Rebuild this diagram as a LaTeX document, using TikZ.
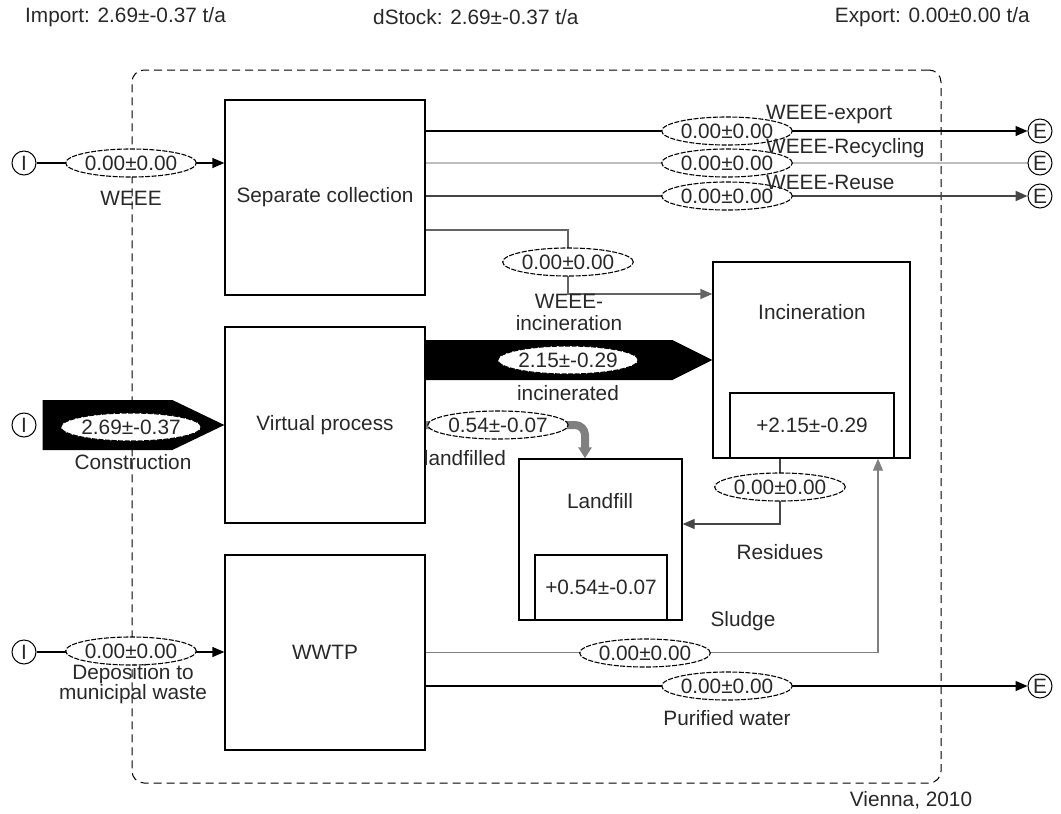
\documentclass[tikz,border=0pt]{standalone}
\usepackage{fontspec}
\setmainfont{Liberation Sans}
\usetikzlibrary{shapes.geometric,arrows.meta,backgrounds}
\definecolor{txt}{RGB}{40,40,40}
\definecolor{recy}{RGB}{190,190,190}
\definecolor{reuse}{RGB}{70,70,70}
\definecolor{midg}{RGB}{100,100,100}
\definecolor{lfg}{RGB}{128,128,128}
\tikzset{
  proc/.style={draw, line width=1.3pt, inner sep=0pt, text=txt},
  io/.style={draw, circle, minimum size=24pt, inner sep=0pt, line width=1pt, text=txt},
  val/.style={ellipse, draw, dash pattern=on 5pt off 1.5pt, line width=1.1pt, fill=white, minimum width=128pt, minimum height=28pt, inner sep=0pt, text=txt},
  lbl/.style={inner sep=0pt, align=center, text=txt},
  fl/.style={line width=1.3pt, -{Triangle[length=12pt,width=10pt]}},
  sysframe/.style={draw, dash pattern=on 8pt off 5pt, line width=1pt, rounded corners=12pt, inner sep=0pt},
}
\begin{document}
\begin{tikzpicture}[x=1pt,y=-1pt,font=\fontsize{20.8}{22}\selectfont]
\useasboundingbox (0,0) rectangle (1061,814);
% header
\node[lbl, anchor=west] (hImp) at (25,17) {Import: 2.69±-0.37 t/a};
\node[lbl, anchor=west] (hSt) at (373,17) {dStock: 2.69±-0.37 t/a};
\node[lbl, anchor=east] (hEx) at (1030,17) {Export: 0.00±0.00 t/a};
\node[lbl] (vien) at (911,800) {Vienna, 2010};
% processes
\node[proc, minimum width=200pt, minimum height=195pt] (sep) at (325,197.5) {Separate collection};
\node[proc, minimum width=200pt, minimum height=196pt] (vp) at (325,425) {Virtual process};
\node[proc, minimum width=200pt, minimum height=195pt] (wwtp) at (325,652.5) {WWTP};
\node[proc, minimum width=197pt, minimum height=196pt] (inc) at (811.5,360) {};
\node[lbl] (incT) at (812,312) {Incineration};
\node[proc, minimum width=164pt, minimum height=65pt] (incs) at (812,425.5) {+2.15±-0.29};
\node[proc, minimum width=163pt, minimum height=161pt] (lf) at (600.5,539.5) {};
\node[lbl] (lfT) at (600,501) {Landfill};
\node[proc, minimum width=132pt, minimum height=65pt] (lfs) at (601,587.5) {+0.54±-0.07};
% import / export
\node[io] (iW) at (24,163) {I};
\node[io] (iC) at (24,425) {I};
\node[io] (iD) at (24,652) {I};
\node[io] (eX) at (1040,131) {E};
\node[io] (eR) at (1040,163) {E};
\node[io] (eU) at (1040,196) {E};
\node[io] (eP) at (1040,686) {E};
% values
\node[val] (vW) at (131,163) {0.00±0.00};
\node[val] (vC) at (131,427) {2.69±-0.37};
\node[val] (vD) at (131,651) {0.00±0.00};
\node[val] (vX) at (727,131) {0.00±0.00};
\node[val] (vR) at (727,163) {0.00±0.00};
\node[val] (vU) at (727,196) {0.00±0.00};
\node[val] (vWi) at (568,262) {0.00±0.00};
\node[val] (vI) at (568,360) {2.15±-0.29};
\node[val] (vL) at (498,425) {0.54±-0.07};
\node[val] (vRs) at (780,487) {0.00±0.00};
\node[val] (vS) at (645,653) {0.00±0.00};
\node[val] (vP) at (727,686) {0.00±0.00};
% labels
\node[lbl] (lW) at (131,198) {WEEE};
\node[lbl] (lC) at (133,462) {Construction};
\node[lbl, font=\fontsize{20.8}{20}\selectfont] (lD) at (133,684) {Deposition to\\municipal waste};
\node[lbl, anchor=west] (lX) at (766,115) {WEEE-export};
\node[lbl, anchor=west] (lR) at (766,148) {WEEE-Recycling};
\node[lbl, anchor=west] (lU) at (766,182) {WEEE-Reuse};
\node[lbl] (lWi) at (569,312) {WEEE-\\incineration};
\node[lbl] (lI) at (568,393) {incinerated};
\node[lbl] (lL) at (465,458) {landfilled};
\node[lbl] (lRs) at (780,552) {Residues};
\node[lbl] (lS) at (743,621) {Sludge};
\node[lbl] (lP) at (727,718) {Purified water};
% helper coordinates
\coordinate (wiS) at ([shift={(0,32.5)}]sep.east);
\coordinate (wiT) at (inc.west |- 0,294);
\coordinate (ib) at (vp.east |- inc.west);
\coordinate (lfIn) at ([xshift=-15.5pt]lf.north);
\coordinate (rsT) at (lf.east |- 0,524);
\coordinate (slT) at ([xshift=66.5pt]inc.south);
\begin{pgfonlayer}{background}
\node[sysframe, minimum width=809pt, minimum height=713pt] (sys) at (536.5,426.5) {};
\draw[fl] (iW) -- (sep.west |- iW);
\draw[fl] (iD) -- (wwtp.west |- iD);
\fill[black] ([shift={(6,-25)}]iC.east) -- ([shift={(-52,-25)}]vp.west) -- (vp.west) -- ([shift={(-52,25)}]vp.west) -- ([shift={(6,25)}]iC.east) -- cycle;
\draw[fl] (sep.east |- eX) -- (eX);
\draw[line width=2pt, recy] (sep.east |- eR) -- (eR);
\draw[fl, reuse, line width=2pt] (sep.east |- eU) -- (eU);
\draw[fl, midg] (wiS) -| (vWi.center) |- (wiT);
\fill[black] ([shift={(0,-20)}]ib) -- ([shift={(-40,-20)}]inc.west) -- (inc.west) -- ([shift={(-40,20)}]inc.west) -- ([shift={(0,20)}]ib) -- cycle;
\draw[lfg, line width=8pt, rounded corners=10pt, -{Triangle[length=11pt,width=13pt]}] (vp.east) -| (lfIn);
\draw[fl, reuse] (inc.south -| vRs) |- (rsT);
\draw[fl, lfg] (wwtp.east) -| (slT);
\draw[fl] (wwtp.east |- eP) -- (eP);
\end{pgfonlayer}
\end{tikzpicture}
\end{document}
